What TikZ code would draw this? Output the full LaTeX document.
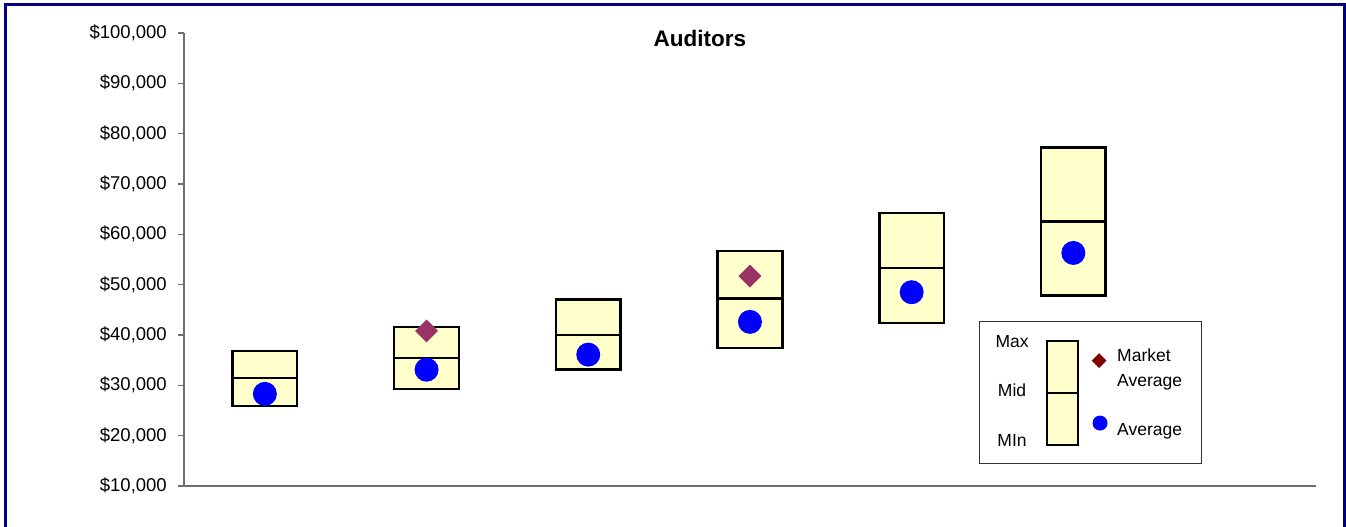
\documentclass[tikz,border=0pt]{standalone}
\usepackage{fontspec}
\setmainfont{Liberation Sans}
\usetikzlibrary{shapes.geometric}
\definecolor{frameblue}{RGB}{0,0,128}
\definecolor{boxyellow}{RGB}{255,255,204}
\definecolor{mktplum}{RGB}{153,51,102}
\definecolor{mktred}{RGB}{128,0,0}
\definecolor{axisgray}{RGB}{110,110,110}

\begin{document}
\begin{tikzpicture}[x=161.7pt,y=5.033pt,
  salbox/.style={fill=boxyellow,draw=black,line width=2.5pt},
  avgdot/.style={circle,fill=blue,inner sep=0pt,minimum size=24pt},
  mktmark/.style={diamond,fill=mktplum,inner sep=0pt,minimum size=23pt},
  lbl/.style={font=\fontsize{17.5}{25}\selectfont,inner sep=0pt},
  ticklbl/.style={font=\fontsize{18.5}{22}\selectfont,inner sep=0pt,anchor=east}]
\useasboundingbox (-184pt,9.3pt) rectangle (1162pt,536.3pt);
\fill[white] (-184pt,9.3pt) rectangle (1162pt,536.3pt);
\draw[frameblue,line width=3pt] (-178pt,9.3pt) -- (-178pt,531.3pt) -- (1160.5pt,531.3pt) -- (1160.5pt,9.3pt);
\node[font=\fontsize{22.5}{24}\selectfont\bfseries] (title) at (3.191,99) {Auditors};
\draw[axisgray,line width=1.2pt] (0,100) -- (0,10) -- (7,10);
\foreach \v in {10,20,...,100} {
  \draw[axisgray,line width=1.2pt] ([xshift=-6pt]0,\v) -- (0,\v);
  \node[ticklbl] (tick\v) at ([xshift=-17pt]0,\v) {\$\v,000};
}
\filldraw[salbox] (0.3,25.9) rectangle (0.7,36.8) (0.3,31.5) -- (0.7,31.5);
\filldraw[salbox] (1.3,29.3) rectangle (1.7,41.6) (1.3,35.4) -- (1.7,35.4);
\filldraw[salbox] (2.3,33.1) rectangle (2.7,47.0) (2.3,40.0) -- (2.7,40.0);
\filldraw[salbox] (3.3,37.4) rectangle (3.7,56.7) (3.3,47.2) -- (3.7,47.2);
\filldraw[salbox] (4.3,42.4) rectangle (4.7,64.2) (4.3,53.3) -- (4.7,53.3);
\filldraw[salbox] (5.3,47.8) rectangle (5.7,77.2) (5.3,62.5) -- (5.7,62.5);
\node[mktmark] (mkt2) at (1.5,40.8) {};
\node[mktmark] (mkt4) at (3.5,51.7) {};
\node[avgdot] (avg1) at (0.5,28.3) {};
\node[avgdot] (avg2) at (1.5,33.1) {};
\node[avgdot] (avg3) at (2.5,36.1) {};
\node[avgdot] (avg4) at (3.5,42.6) {};
\node[avgdot] (avg5) at (4.5,48.5) {};
\node[avgdot] (avg6) at (5.5,56.3) {};
\draw[black!80,line width=1pt] (4.917,14.37) rectangle (6.290,42.58);
\filldraw[fill=boxyellow,draw=black,line width=1.8pt] (5.337,18.2) rectangle (5.529,38.8) (5.337,28.5) -- (5.529,28.5);
\node[lbl] (lmax) at (5.121,38.6) {Max};
\node[lbl] (lmid) at (5.121,29.1) {Mid};
\node[lbl] (lmin) at (5.121,19.1) {MIn};
\node[mktmark,fill=mktred,minimum size=15pt] (lmkt) at (5.659,34.9) {};
\node[avgdot,minimum size=15pt] (lavg) at (5.665,22.5) {};
\node[lbl,anchor=west,align=left] (lmkttext) at (5.770,33.1) {Market\\Average};
\node[lbl,anchor=west] (lavgtext) at (5.770,20.9) {Average};
\end{tikzpicture}
\end{document}
